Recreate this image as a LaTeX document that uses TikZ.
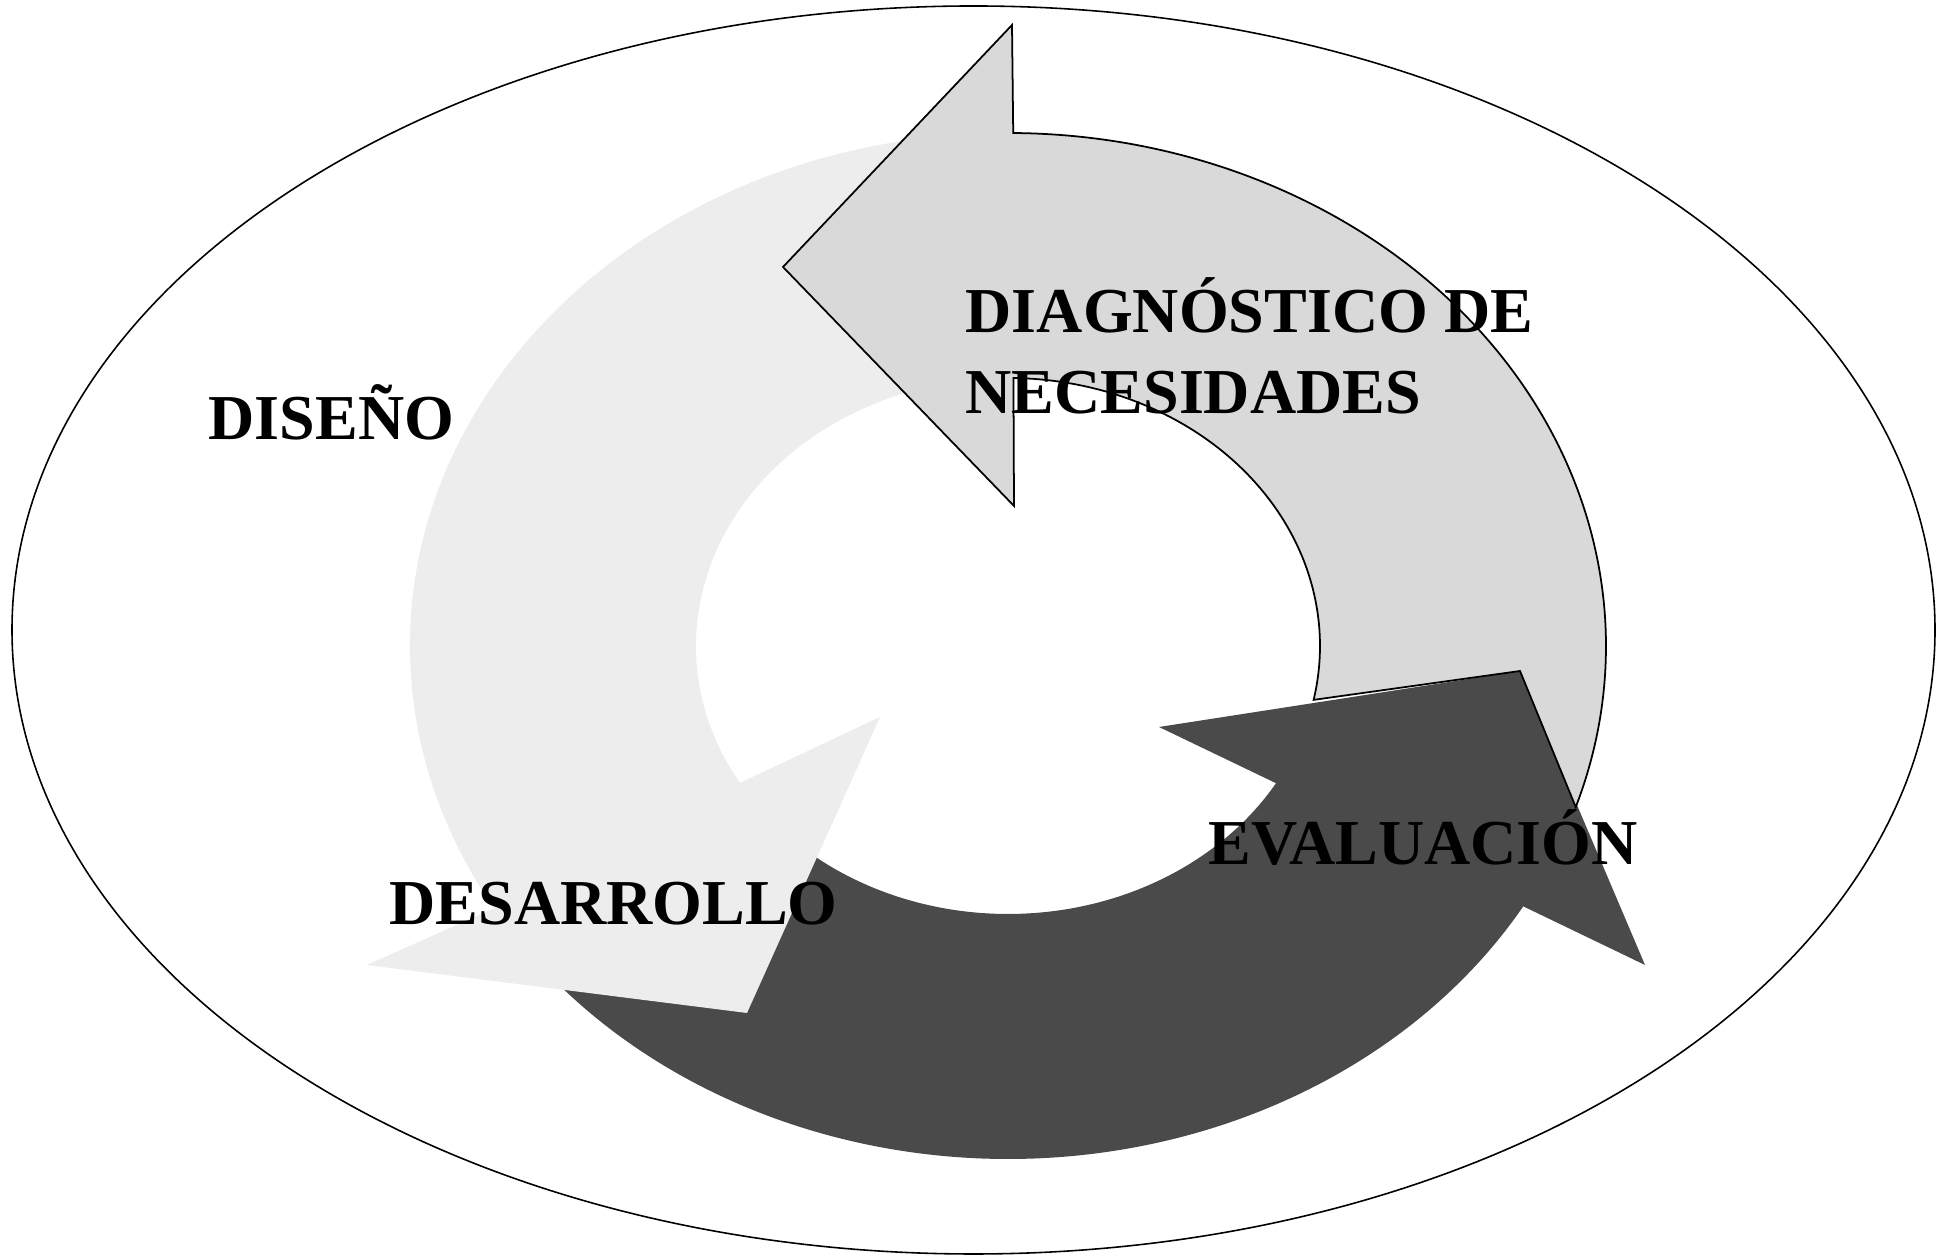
\documentclass[tikz,border=0pt]{standalone}
\usepackage{fontspec}
\setmainfont{Liberation Serif}
\usetikzlibrary{calc,positioning}

\definecolor{diaggray}{RGB}{217,217,217}
\definecolor{disenogray}{RGB}{237,237,237}
\definecolor{evaldark}{RGB}{74,74,74}

\begin{document}
\begin{tikzpicture}[x=0.01cm,y=0.01cm,
    lbl/.style={inner sep=0pt,anchor=base west,font=\fontsize{18.2}{22}\selectfont\bfseries},
    outerrad/.style={x radius=598,y radius=513},
    innerrad/.style={x radius=312,y radius=268},
    diagarrow/.style={fill=diaggray,draw=black,line width=0.5pt,line join=miter},
    disenoarrow/.style={fill=disenogray},
    evalarrow/.style={fill=evaldark}]
  \useasboundingbox[fill=white] (0,0) rectangle (1945,1255);
  \draw[line width=0.45pt] (973.5,625) ellipse [x radius=961.5,y radius=624];

  \coordinate (ctr) at (1008,609);

  % evaluacion (bottom, dark)
  \fill[evalarrow] ($(ctr)+(222:598 and 513)$) arc[outerrad,start angle=222,end angle=329.5]
    -- (1645,290) -- (1520,584) -- (1159,528)
    -- ($(ctr)+(329.2:312 and 268)$) arc[innerrad,start angle=329.2,end angle=222] -- cycle;

  % diseno / desarrollo (left, light)
  \fill[disenoarrow] ($(ctr)+(95:598 and 513)$) arc[outerrad,start angle=95,end angle=210.75]
    -- (367,290) -- (747,242) -- (880,538)
    -- ($(ctr)+(210.75:312 and 268)$) arc[innerrad,start angle=210.75,end angle=95] -- cycle;

  % diagnostico (top right, outlined)
  \filldraw[diagarrow] ($(ctr)+(-18.3:598 and 513)$) arc[outerrad,start angle=-18.3,end angle=89.5]
    -- (1012,1230) -- (783,988) -- (1014,749)
    -- ($(ctr)+(89:312 and 268)$) arc[innerrad,start angle=89,end angle=-11.6]
    -- (1520,584) -- cycle;

  \node[lbl] (diag) at (965,922) {DIAGNÓSTICO DE};
  \node[lbl] (necesidades) [below=0.8cm of diag.base west,anchor=base west] {NECESIDADES};
  \node[lbl] (diseno) at (208,815) {DISEÑO};
  \node[lbl] (desarrollo) at (389,330) {DESARROLLO};
  \node[lbl] (evaluacion) at (1208,390) {EVALUACIÓN};
\end{tikzpicture}
\end{document}
